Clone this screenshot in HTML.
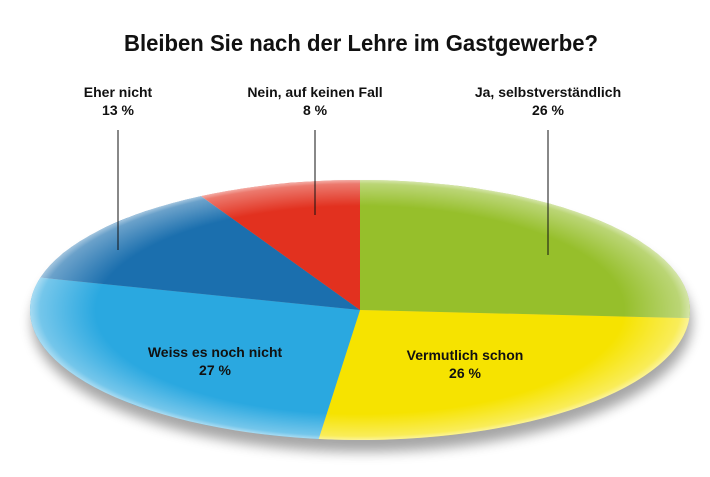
<!DOCTYPE html>
<html><head><meta charset="utf-8">
<style>
html,body{margin:0;padding:0;background:#fff;}
svg{display:block;}
text{font-family:"Liberation Sans Narrow","Liberation Sans",sans-serif;font-weight:bold;fill:#111;}
</style></head>
<body>
<svg id="chart" width="710" height="477" viewBox="0 0 710 477">
<defs>
<radialGradient id="gloss" cx="0.5" cy="0.5" r="0.5">
<stop offset="0.8" stop-color="#fff" stop-opacity="0"/>
<stop offset="0.97" stop-color="#fff" stop-opacity="0.35"/>
<stop offset="1" stop-color="#fff" stop-opacity="0.6"/>
</radialGradient>
<filter id="shadow" x="-10%" y="-10%" width="120%" height="130%">
<feGaussianBlur stdDeviation="6"/>
</filter>
</defs>
<text x="361" y="51" text-anchor="middle" font-size="23" textLength="474" lengthAdjust="spacingAndGlyphs">Bleiben Sie nach der Lehre im Gastgewerbe?</text>
<ellipse cx="362" cy="322" rx="330" ry="130" fill="#000" opacity="0.35" filter="url(#shadow)"/>
<g id="slices"></g>
<ellipse cx="360" cy="310" rx="330" ry="130" fill="url(#gloss)"/>
<g id="labels"></g>
</svg>
<script>
const categories = ["Ja, selbstverständlich","Vermutlich schon","Weiss es noch nicht","Eher nicht","Nein, auf keinen Fall"];
const values = [26, 26, 27, 13, 8];
const valueLabels = ["26 %","26 %","27 %","13 %","8 %"];
const colors = ["#96bf2b","#f6e300","#2aa8e0","#1b6fae","#e2311f"];
const cx=360, cy=310, rx=330, ry=130;
const total = values.reduce((a,b)=>a+b,0);
function pt(a){return [cx+rx*Math.sin(a), cy-ry*Math.cos(a)];}
const sg=document.getElementById('slices'), lg=document.getElementById('labels');
const NS="http://www.w3.org/2000/svg";
let acc=0;
const outside = {0:[548,97,255],3:[118,97,250],4:[315,97,215]};
const inside = {1:[465,360],2:[215,357]};
values.forEach((v,i)=>{
  const a0=acc/total*2*Math.PI; acc+=v; const a1=acc/total*2*Math.PI;
  const p0=pt(a0), p1=pt(a1); const large=(a1-a0)>Math.PI?1:0;
  const p=document.createElementNS(NS,'path');
  p.setAttribute('d',`M${cx},${cy} L${p0[0]},${p0[1]} A${rx},${ry} 0 ${large} 1 ${p1[0]},${p1[1]} Z`);
  p.setAttribute('fill',colors[i]);
  
  
  sg.appendChild(p);
  let lx,ly;
  if(outside[i]){
    lx=outside[i][0]; ly=outside[i][1];
    const ln=document.createElementNS(NS,'line');
    ln.setAttribute('x1',lx);ln.setAttribute('y1',ly+33);
    ln.setAttribute('x2',lx);ln.setAttribute('y2',outside[i][2]);
    ln.setAttribute('stroke','#111');ln.setAttribute('stroke-width','1');
    
    
    lg.appendChild(ln);
  } else {
    lx=inside[i][0]; ly=inside[i][1];
  }
  const t=document.createElementNS(NS,'text');
  t.setAttribute('x',lx);t.setAttribute('y',ly);
  t.setAttribute('text-anchor','middle');t.setAttribute('font-size','14');
  
  
  const s1=document.createElementNS(NS,'tspan');s1.setAttribute('x',lx);s1.textContent=categories[i];
  const s2=document.createElementNS(NS,'tspan');s2.setAttribute('x',lx);s2.setAttribute('dy','18');s2.textContent=valueLabels[i];
  t.appendChild(s1);t.appendChild(s2);
  lg.appendChild(t);
});
</script>
</body></html>
